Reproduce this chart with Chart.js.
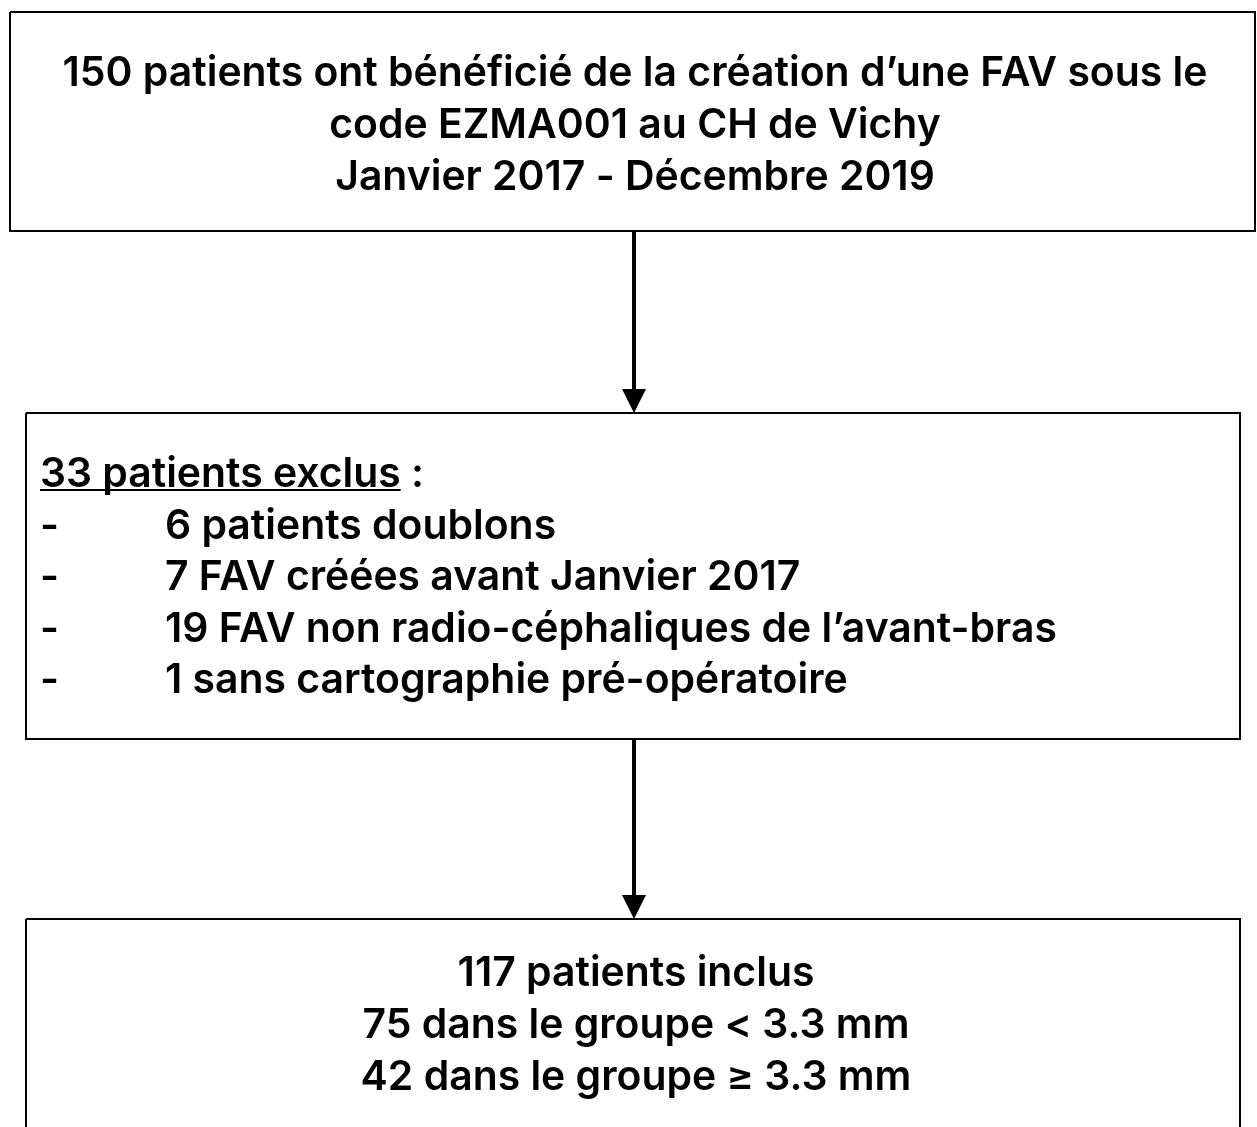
<!DOCTYPE html>
<html>
<head>
<meta charset="utf-8">
<script src="https://cdn.jsdelivr.net/npm/chart.js@4"></script>
<style>
  html, body { margin: 0; padding: 0; background: #fff; }
  #flux { display: block; }
</style>
</head>
<body>
<canvas id="flux" width="1257" height="1127"></canvas>
<script>
// textes du diagramme de flux
const enTete = [
    '150 patients ont bénéficié de la création d’une FAV sous le',
    'code EZMA001 au CH de Vichy',
    'Janvier 2017 - Décembre 2019'
];
const exclusTitre = '33 patients exclus';
const exclusions = [
    '6 patients doublons',
    '7 FAV créées avant Janvier 2017',
    '19 FAV non radio-céphaliques de l’avant-bras',
    '1 sans cartographie pré-opératoire'
];
const inclus = [
    '117 patients inclus',
    '75 dans le groupe < 3.3 mm',
    '42 dans le groupe ≥ 3.3 mm'
];

// mise en page (coordonnées de l'échelle, pas des données)
const cadres = [
    { x0: 10, x1: 1255, y0: 12, y1: 231 },
    { x0: 26, x1: 1240, y0: 413, y1: 739 },
    { x0: 26, x1: 1240, y0: 919, y1: 1140 }
];
const fleches = [
    { x: 634, y0: 231, y1: 413 },
    { x: 634, y0: 739, y1: 919 }
];
const famille = 'Inter, "Liberation Sans", Arial, sans-serif';
const largeurLigne1 = 1146;
const interligne = 51.5;

const rect = c => [
    { x: c.x0, y: c.y0 }, { x: c.x1, y: c.y0 },
    { x: c.x1, y: c.y1 }, { x: c.x0, y: c.y1 }, { x: c.x0, y: c.y0 }
];

const datasets = [
    ...cadres.map(c => ({
        data: rect(c), showLine: true, borderColor: '#000', borderWidth: 2,
        pointRadius: 0, fill: false, tension: 0
    })),
    ...fleches.map(f => ({
        data: [{ x: f.x, y: f.y0 }, { x: f.x, y: f.y1 - 20 }], showLine: true,
        borderColor: '#000', borderWidth: 4, pointRadius: 0, tension: 0
    }))
];

const textes = {
    id: 'textes',
    afterDatasetsDraw(chart) {
        const { ctx, scales: { x, y } } = chart;
        ctx.save();

        // pointes de flèches
        ctx.fillStyle = '#000';
        fleches.forEach(f => {
            const px = x.getPixelForValue(f.x);
            const tip = y.getPixelForValue(f.y1);
            const base = y.getPixelForValue(f.y1 - 24);
            ctx.beginPath();
            ctx.moveTo(px - 12, base);
            ctx.lineTo(px + 12, base);
            ctx.lineTo(px, tip);
            ctx.closePath();
            ctx.fill();
        });

        // taille de police ajustée sur la première ligne
        ctx.font = '600 100px ' + famille;
        const taille = 100 * largeurLigne1 / ctx.measureText(enTete[0]).width;
        ctx.font = '600 ' + taille.toFixed(1) + 'px ' + famille;
        ctx.textBaseline = 'alphabetic';

        // cadre 1
        ctx.textAlign = 'center';
        enTete.forEach((t, i) => {
            ctx.fillText(t, x.getPixelForValue(635), y.getPixelForValue(86 + i * 52));
        });

        // cadre 2
        ctx.textAlign = 'left';
        const xt = x.getPixelForValue(40);
        const y0 = y.getPixelForValue(487);
        ctx.fillText(exclusTitre, xt, y0);
        const w = ctx.measureText(exclusTitre).width;
        ctx.fillText(' :', xt + w, y0);
        ctx.fillRect(xt, y0 + 2, w, 2);
        exclusions.forEach((t, i) => {
            const yy = y.getPixelForValue(487 + (i + 1) * interligne);
            ctx.fillText('-', xt, yy);
            ctx.fillText(t, x.getPixelForValue(165), yy);
        });

        // cadre 3
        ctx.textAlign = 'center';
        inclus.forEach((t, i) => {
            ctx.fillText(t, x.getPixelForValue(636), y.getPixelForValue(986 + i * 52));
        });

        ctx.restore();
    }
};

new Chart(document.getElementById('flux').getContext('2d'), {
    type: 'scatter',
    data: { datasets },
    options: {
        responsive: false,
        animation: false,
        layout: { padding: 0 },
        plugins: { legend: { display: false }, tooltip: { enabled: false } },
        scales: {
            x: { type: 'linear', min: 0, max: 1257, display: false },
            y: { type: 'linear', min: 0, max: 1127, reverse: true, display: false }
        }
    },
    plugins: [textes]
});
</script>
</body>
</html>
